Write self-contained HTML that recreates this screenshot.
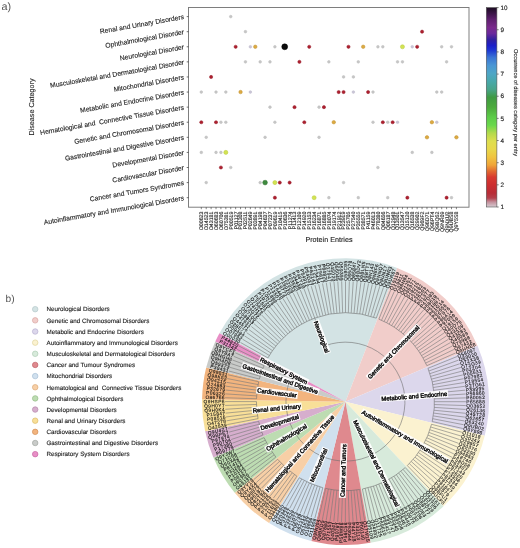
<!DOCTYPE html>
<html><head><meta charset="utf-8"><title>Figure</title>
<style>html,body{margin:0;padding:0;background:#fff;}body{width:520px;height:548px;overflow:hidden;font-family:"Liberation Sans",sans-serif;}svg{display:block;will-change:transform;text-rendering:geometricPrecision;}</style>
</head><body>
<svg width="520" height="548" viewBox="0 0 520 548" font-family='"Liberation Sans", sans-serif'><text x="1.6" y="9.6" font-size="10.8" fill="#555">a)</text>
<rect x="188.5" y="7.5" width="280.5" height="199.7" fill="#fff" stroke="#787878" stroke-width="0.95"/>
<line x1="186.7" y1="16.6" x2="188.5" y2="16.6" stroke="#333" stroke-width="0.7"/>
<text x="184" y="19.06" font-size="6.78" fill="#1e1e1e" stroke="#1e1e1e" stroke-width="0.12" text-anchor="end" xml:space="preserve" transform="rotate(-10 184 17.3)">Renal and Urinary Disorders</text>
<line x1="186.7" y1="31.69" x2="188.5" y2="31.69" stroke="#333" stroke-width="0.7"/>
<text x="184" y="34.15" font-size="6.78" fill="#1e1e1e" stroke="#1e1e1e" stroke-width="0.12" text-anchor="end" xml:space="preserve" transform="rotate(-10 184 32.39)">Ophthalmological Disorder</text>
<line x1="186.7" y1="46.78" x2="188.5" y2="46.78" stroke="#333" stroke-width="0.7"/>
<text x="184" y="49.24" font-size="6.78" fill="#1e1e1e" stroke="#1e1e1e" stroke-width="0.12" text-anchor="end" xml:space="preserve" transform="rotate(-10 184 47.48)">Neurological Disorder</text>
<line x1="186.7" y1="61.87" x2="188.5" y2="61.87" stroke="#333" stroke-width="0.7"/>
<text x="184" y="64.33" font-size="6.78" fill="#1e1e1e" stroke="#1e1e1e" stroke-width="0.12" text-anchor="end" xml:space="preserve" transform="rotate(-10 184 62.57)">Musculoskeletal and Dermatological Disorder</text>
<line x1="186.7" y1="76.96" x2="188.5" y2="76.96" stroke="#333" stroke-width="0.7"/>
<text x="184" y="79.42" font-size="6.78" fill="#1e1e1e" stroke="#1e1e1e" stroke-width="0.12" text-anchor="end" xml:space="preserve" transform="rotate(-10 184 77.66)">Mitochondrial Disorders</text>
<line x1="186.7" y1="92.05" x2="188.5" y2="92.05" stroke="#333" stroke-width="0.7"/>
<text x="184" y="94.51" font-size="6.78" fill="#1e1e1e" stroke="#1e1e1e" stroke-width="0.12" text-anchor="end" xml:space="preserve" transform="rotate(-10 184 92.75)">Metabolic and Endocrine Disorders</text>
<line x1="186.7" y1="107.14" x2="188.5" y2="107.14" stroke="#333" stroke-width="0.7"/>
<text x="184" y="109.6" font-size="6.78" fill="#1e1e1e" stroke="#1e1e1e" stroke-width="0.12" text-anchor="end" xml:space="preserve" transform="rotate(-10 184 107.84)">Hematological and  Connective Tissue Disorders</text>
<line x1="186.7" y1="122.23" x2="188.5" y2="122.23" stroke="#333" stroke-width="0.7"/>
<text x="184" y="124.69" font-size="6.78" fill="#1e1e1e" stroke="#1e1e1e" stroke-width="0.12" text-anchor="end" xml:space="preserve" transform="rotate(-10 184 122.93)">Genetic and Chromosomal Disorders</text>
<line x1="186.7" y1="137.32" x2="188.5" y2="137.32" stroke="#333" stroke-width="0.7"/>
<text x="184" y="139.78" font-size="6.78" fill="#1e1e1e" stroke="#1e1e1e" stroke-width="0.12" text-anchor="end" xml:space="preserve" transform="rotate(-10 184 138.02)">Gastrointestinal and Digestive Disorders</text>
<line x1="186.7" y1="152.41" x2="188.5" y2="152.41" stroke="#333" stroke-width="0.7"/>
<text x="184" y="154.87" font-size="6.78" fill="#1e1e1e" stroke="#1e1e1e" stroke-width="0.12" text-anchor="end" xml:space="preserve" transform="rotate(-10 184 153.11)">Developmental Disorder</text>
<line x1="186.7" y1="167.5" x2="188.5" y2="167.5" stroke="#333" stroke-width="0.7"/>
<text x="184" y="169.96" font-size="6.78" fill="#1e1e1e" stroke="#1e1e1e" stroke-width="0.12" text-anchor="end" xml:space="preserve" transform="rotate(-10 184 168.2)">Cardiovascular Disorder</text>
<line x1="186.7" y1="182.59" x2="188.5" y2="182.59" stroke="#333" stroke-width="0.7"/>
<text x="184" y="185.05" font-size="6.78" fill="#1e1e1e" stroke="#1e1e1e" stroke-width="0.12" text-anchor="end" xml:space="preserve" transform="rotate(-10 184 183.29)">Cancer and Tumors Syndromes</text>
<line x1="186.7" y1="197.68" x2="188.5" y2="197.68" stroke="#333" stroke-width="0.7"/>
<text x="184" y="200.14" font-size="6.78" fill="#1e1e1e" stroke="#1e1e1e" stroke-width="0.12" text-anchor="end" xml:space="preserve" transform="rotate(-10 184 198.38)">Autoinflammatory and Immunological Disorders</text>
<line x1="201.3" y1="207.2" x2="201.3" y2="209.2" stroke="#333" stroke-width="0.6"/>
<text x="203.21" y="211.5" font-size="5.3" fill="#222" stroke="#222" stroke-width="0.12" text-anchor="end" transform="rotate(-90 203.21 211.5)">O00623</text>
<line x1="206.21" y1="207.2" x2="206.21" y2="209.2" stroke="#333" stroke-width="0.6"/>
<text x="208.11" y="211.5" font-size="5.3" fill="#222" stroke="#222" stroke-width="0.12" text-anchor="end" transform="rotate(-90 208.11 211.5)">O14523</text>
<line x1="211.11" y1="207.2" x2="211.11" y2="209.2" stroke="#333" stroke-width="0.6"/>
<text x="213.02" y="211.5" font-size="5.3" fill="#222" stroke="#222" stroke-width="0.12" text-anchor="end" transform="rotate(-90 213.02 211.5)">O43181</text>
<line x1="216.02" y1="207.2" x2="216.02" y2="209.2" stroke="#333" stroke-width="0.6"/>
<text x="217.93" y="211.5" font-size="5.3" fill="#222" stroke="#222" stroke-width="0.12" text-anchor="end" transform="rotate(-90 217.93 211.5)">O60683</text>
<line x1="220.92" y1="207.2" x2="220.92" y2="209.2" stroke="#333" stroke-width="0.6"/>
<text x="222.83" y="211.5" font-size="5.3" fill="#222" stroke="#222" stroke-width="0.12" text-anchor="end" transform="rotate(-90 222.83 211.5)">O60706</text>
<line x1="225.83" y1="207.2" x2="225.83" y2="209.2" stroke="#333" stroke-width="0.6"/>
<text x="227.74" y="211.5" font-size="5.3" fill="#222" stroke="#222" stroke-width="0.12" text-anchor="end" transform="rotate(-90 227.74 211.5)">O75381</text>
<line x1="230.74" y1="207.2" x2="230.74" y2="209.2" stroke="#333" stroke-width="0.6"/>
<text x="232.64" y="211.5" font-size="5.3" fill="#222" stroke="#222" stroke-width="0.12" text-anchor="end" transform="rotate(-90 232.64 211.5)">P00519</text>
<line x1="235.64" y1="207.2" x2="235.64" y2="209.2" stroke="#333" stroke-width="0.6"/>
<text x="237.55" y="211.5" font-size="5.3" fill="#222" stroke="#222" stroke-width="0.12" text-anchor="end" transform="rotate(-90 237.55 211.5)">P01127</text>
<line x1="240.55" y1="207.2" x2="240.55" y2="209.2" stroke="#333" stroke-width="0.6"/>
<text x="242.46" y="211.5" font-size="5.3" fill="#222" stroke="#222" stroke-width="0.12" text-anchor="end" transform="rotate(-90 242.46 211.5)">P01308</text>
<line x1="245.45" y1="207.2" x2="245.45" y2="209.2" stroke="#333" stroke-width="0.6"/>
<text x="247.36" y="211.5" font-size="5.3" fill="#222" stroke="#222" stroke-width="0.12" text-anchor="end" transform="rotate(-90 247.36 211.5)">P02511</text>
<line x1="250.36" y1="207.2" x2="250.36" y2="209.2" stroke="#333" stroke-width="0.6"/>
<text x="252.27" y="211.5" font-size="5.3" fill="#222" stroke="#222" stroke-width="0.12" text-anchor="end" transform="rotate(-90 252.27 211.5)">P02649</text>
<line x1="255.27" y1="207.2" x2="255.27" y2="209.2" stroke="#333" stroke-width="0.6"/>
<text x="257.17" y="211.5" font-size="5.3" fill="#222" stroke="#222" stroke-width="0.12" text-anchor="end" transform="rotate(-90 257.17 211.5)">P03891</text>
<line x1="260.17" y1="207.2" x2="260.17" y2="209.2" stroke="#333" stroke-width="0.6"/>
<text x="262.08" y="211.5" font-size="5.3" fill="#222" stroke="#222" stroke-width="0.12" text-anchor="end" transform="rotate(-90 262.08 211.5)">P04198</text>
<line x1="265.08" y1="207.2" x2="265.08" y2="209.2" stroke="#333" stroke-width="0.6"/>
<text x="266.99" y="211.5" font-size="5.3" fill="#222" stroke="#222" stroke-width="0.12" text-anchor="end" transform="rotate(-90 266.99 211.5)">P04637</text>
<line x1="269.98" y1="207.2" x2="269.98" y2="209.2" stroke="#333" stroke-width="0.6"/>
<text x="271.89" y="211.5" font-size="5.3" fill="#222" stroke="#222" stroke-width="0.12" text-anchor="end" transform="rotate(-90 271.89 211.5)">P07237</text>
<line x1="274.89" y1="207.2" x2="274.89" y2="209.2" stroke="#333" stroke-width="0.6"/>
<text x="276.8" y="211.5" font-size="5.3" fill="#222" stroke="#222" stroke-width="0.12" text-anchor="end" transform="rotate(-90 276.8 211.5)">P09619</text>
<line x1="279.8" y1="207.2" x2="279.8" y2="209.2" stroke="#333" stroke-width="0.6"/>
<text x="281.7" y="211.5" font-size="5.3" fill="#222" stroke="#222" stroke-width="0.12" text-anchor="end" transform="rotate(-90 281.7 211.5)">P10415</text>
<line x1="284.7" y1="207.2" x2="284.7" y2="209.2" stroke="#333" stroke-width="0.6"/>
<text x="286.61" y="211.5" font-size="5.3" fill="#222" stroke="#222" stroke-width="0.12" text-anchor="end" transform="rotate(-90 286.61 211.5)">P10636</text>
<line x1="289.61" y1="207.2" x2="289.61" y2="209.2" stroke="#333" stroke-width="0.6"/>
<text x="291.52" y="211.5" font-size="5.3" fill="#222" stroke="#222" stroke-width="0.12" text-anchor="end" transform="rotate(-90 291.52 211.5)">P11274</text>
<line x1="294.51" y1="207.2" x2="294.51" y2="209.2" stroke="#333" stroke-width="0.6"/>
<text x="296.42" y="211.5" font-size="5.3" fill="#222" stroke="#222" stroke-width="0.12" text-anchor="end" transform="rotate(-90 296.42 211.5)">P11413</text>
<line x1="299.42" y1="207.2" x2="299.42" y2="209.2" stroke="#333" stroke-width="0.6"/>
<text x="301.33" y="211.5" font-size="5.3" fill="#222" stroke="#222" stroke-width="0.12" text-anchor="end" transform="rotate(-90 301.33 211.5)">P12109</text>
<line x1="304.33" y1="207.2" x2="304.33" y2="209.2" stroke="#333" stroke-width="0.6"/>
<text x="306.23" y="211.5" font-size="5.3" fill="#222" stroke="#222" stroke-width="0.12" text-anchor="end" transform="rotate(-90 306.23 211.5)">P14920</text>
<line x1="309.23" y1="207.2" x2="309.23" y2="209.2" stroke="#333" stroke-width="0.6"/>
<text x="311.14" y="211.5" font-size="5.3" fill="#222" stroke="#222" stroke-width="0.12" text-anchor="end" transform="rotate(-90 311.14 211.5)">P15153</text>
<line x1="314.14" y1="207.2" x2="314.14" y2="209.2" stroke="#333" stroke-width="0.6"/>
<text x="316.05" y="211.5" font-size="5.3" fill="#222" stroke="#222" stroke-width="0.12" text-anchor="end" transform="rotate(-90 316.05 211.5)">P16234</text>
<line x1="319.04" y1="207.2" x2="319.04" y2="209.2" stroke="#333" stroke-width="0.6"/>
<text x="320.95" y="211.5" font-size="5.3" fill="#222" stroke="#222" stroke-width="0.12" text-anchor="end" transform="rotate(-90 320.95 211.5)">P16871</text>
<line x1="323.95" y1="207.2" x2="323.95" y2="209.2" stroke="#333" stroke-width="0.6"/>
<text x="325.86" y="211.5" font-size="5.3" fill="#222" stroke="#222" stroke-width="0.12" text-anchor="end" transform="rotate(-90 325.86 211.5)">P16885</text>
<line x1="328.86" y1="207.2" x2="328.86" y2="209.2" stroke="#333" stroke-width="0.6"/>
<text x="330.76" y="211.5" font-size="5.3" fill="#222" stroke="#222" stroke-width="0.12" text-anchor="end" transform="rotate(-90 330.76 211.5)">P18074</text>
<line x1="333.76" y1="207.2" x2="333.76" y2="209.2" stroke="#333" stroke-width="0.6"/>
<text x="335.67" y="211.5" font-size="5.3" fill="#222" stroke="#222" stroke-width="0.12" text-anchor="end" transform="rotate(-90 335.67 211.5)">P19174</text>
<line x1="338.67" y1="207.2" x2="338.67" y2="209.2" stroke="#333" stroke-width="0.6"/>
<text x="340.58" y="211.5" font-size="5.3" fill="#222" stroke="#222" stroke-width="0.12" text-anchor="end" transform="rotate(-90 340.58 211.5)">P21912</text>
<line x1="343.57" y1="207.2" x2="343.57" y2="209.2" stroke="#333" stroke-width="0.6"/>
<text x="345.48" y="211.5" font-size="5.3" fill="#222" stroke="#222" stroke-width="0.12" text-anchor="end" transform="rotate(-90 345.48 211.5)">P23919</text>
<line x1="348.48" y1="207.2" x2="348.48" y2="209.2" stroke="#333" stroke-width="0.6"/>
<text x="350.39" y="211.5" font-size="5.3" fill="#222" stroke="#222" stroke-width="0.12" text-anchor="end" transform="rotate(-90 350.39 211.5)">P25705</text>
<line x1="353.39" y1="207.2" x2="353.39" y2="209.2" stroke="#333" stroke-width="0.6"/>
<text x="355.29" y="211.5" font-size="5.3" fill="#222" stroke="#222" stroke-width="0.12" text-anchor="end" transform="rotate(-90 355.29 211.5)">P27540</text>
<line x1="358.29" y1="207.2" x2="358.29" y2="209.2" stroke="#333" stroke-width="0.6"/>
<text x="360.2" y="211.5" font-size="5.3" fill="#222" stroke="#222" stroke-width="0.12" text-anchor="end" transform="rotate(-90 360.2 211.5)">P35555</text>
<line x1="363.2" y1="207.2" x2="363.2" y2="209.2" stroke="#333" stroke-width="0.6"/>
<text x="365.11" y="211.5" font-size="5.3" fill="#222" stroke="#222" stroke-width="0.12" text-anchor="end" transform="rotate(-90 365.11 211.5)">P38571</text>
<line x1="368.1" y1="207.2" x2="368.1" y2="209.2" stroke="#333" stroke-width="0.6"/>
<text x="370.01" y="211.5" font-size="5.3" fill="#222" stroke="#222" stroke-width="0.12" text-anchor="end" transform="rotate(-90 370.01 211.5)">P41159</text>
<line x1="373.01" y1="207.2" x2="373.01" y2="209.2" stroke="#333" stroke-width="0.6"/>
<text x="374.92" y="211.5" font-size="5.3" fill="#222" stroke="#222" stroke-width="0.12" text-anchor="end" transform="rotate(-90 374.92 211.5)">P46013</text>
<line x1="377.92" y1="207.2" x2="377.92" y2="209.2" stroke="#333" stroke-width="0.6"/>
<text x="379.82" y="211.5" font-size="5.3" fill="#222" stroke="#222" stroke-width="0.12" text-anchor="end" transform="rotate(-90 379.82 211.5)">P78380</text>
<line x1="382.82" y1="207.2" x2="382.82" y2="209.2" stroke="#333" stroke-width="0.6"/>
<text x="384.73" y="211.5" font-size="5.3" fill="#222" stroke="#222" stroke-width="0.12" text-anchor="end" transform="rotate(-90 384.73 211.5)">Q04656</text>
<line x1="387.73" y1="207.2" x2="387.73" y2="209.2" stroke="#333" stroke-width="0.6"/>
<text x="389.64" y="211.5" font-size="5.3" fill="#222" stroke="#222" stroke-width="0.12" text-anchor="end" transform="rotate(-90 389.64 211.5)">Q06187</text>
<line x1="392.63" y1="207.2" x2="392.63" y2="209.2" stroke="#333" stroke-width="0.6"/>
<text x="394.54" y="211.5" font-size="5.3" fill="#222" stroke="#222" stroke-width="0.12" text-anchor="end" transform="rotate(-90 394.54 211.5)">Q12948</text>
<line x1="397.54" y1="207.2" x2="397.54" y2="209.2" stroke="#333" stroke-width="0.6"/>
<text x="399.45" y="211.5" font-size="5.3" fill="#222" stroke="#222" stroke-width="0.12" text-anchor="end" transform="rotate(-90 399.45 211.5)">Q13501</text>
<line x1="402.45" y1="207.2" x2="402.45" y2="209.2" stroke="#333" stroke-width="0.6"/>
<text x="404.35" y="211.5" font-size="5.3" fill="#222" stroke="#222" stroke-width="0.12" text-anchor="end" transform="rotate(-90 404.35 211.5)">Q13547</text>
<line x1="407.35" y1="207.2" x2="407.35" y2="209.2" stroke="#333" stroke-width="0.6"/>
<text x="409.26" y="211.5" font-size="5.3" fill="#222" stroke="#222" stroke-width="0.12" text-anchor="end" transform="rotate(-90 409.26 211.5)">Q15120</text>
<line x1="412.26" y1="207.2" x2="412.26" y2="209.2" stroke="#333" stroke-width="0.6"/>
<text x="414.17" y="211.5" font-size="5.3" fill="#222" stroke="#222" stroke-width="0.12" text-anchor="end" transform="rotate(-90 414.17 211.5)">Q16538</text>
<line x1="417.16" y1="207.2" x2="417.16" y2="209.2" stroke="#333" stroke-width="0.6"/>
<text x="419.07" y="211.5" font-size="5.3" fill="#222" stroke="#222" stroke-width="0.12" text-anchor="end" transform="rotate(-90 419.07 211.5)">Q29902</text>
<line x1="422.07" y1="207.2" x2="422.07" y2="209.2" stroke="#333" stroke-width="0.6"/>
<text x="423.98" y="211.5" font-size="5.3" fill="#222" stroke="#222" stroke-width="0.12" text-anchor="end" transform="rotate(-90 423.98 211.5)">Q969F2</text>
<line x1="426.98" y1="207.2" x2="426.98" y2="209.2" stroke="#333" stroke-width="0.6"/>
<text x="428.88" y="211.5" font-size="5.3" fill="#222" stroke="#222" stroke-width="0.12" text-anchor="end" transform="rotate(-90 428.88 211.5)">Q96D71</text>
<line x1="431.88" y1="207.2" x2="431.88" y2="209.2" stroke="#333" stroke-width="0.6"/>
<text x="433.79" y="211.5" font-size="5.3" fill="#222" stroke="#222" stroke-width="0.12" text-anchor="end" transform="rotate(-90 433.79 211.5)">Q96PT4</text>
<line x1="436.79" y1="207.2" x2="436.79" y2="209.2" stroke="#333" stroke-width="0.6"/>
<text x="438.7" y="211.5" font-size="5.3" fill="#222" stroke="#222" stroke-width="0.12" text-anchor="end" transform="rotate(-90 438.7 211.5)">Q9BQ52</text>
<line x1="441.69" y1="207.2" x2="441.69" y2="209.2" stroke="#333" stroke-width="0.6"/>
<text x="443.6" y="211.5" font-size="5.3" fill="#222" stroke="#222" stroke-width="0.12" text-anchor="end" transform="rotate(-90 443.6 211.5)">Q9NR09</text>
<line x1="446.6" y1="207.2" x2="446.6" y2="209.2" stroke="#333" stroke-width="0.6"/>
<text x="448.51" y="211.5" font-size="5.3" fill="#222" stroke="#222" stroke-width="0.12" text-anchor="end" transform="rotate(-90 448.51 211.5)">Q9NXU2</text>
<line x1="451.51" y1="207.2" x2="451.51" y2="209.2" stroke="#333" stroke-width="0.6"/>
<text x="453.41" y="211.5" font-size="5.3" fill="#222" stroke="#222" stroke-width="0.12" text-anchor="end" transform="rotate(-90 453.41 211.5)">Q9UBS8</text>
<line x1="456.41" y1="207.2" x2="456.41" y2="209.2" stroke="#333" stroke-width="0.6"/>
<text x="458.32" y="211.5" font-size="5.3" fill="#222" stroke="#222" stroke-width="0.12" text-anchor="end" transform="rotate(-90 458.32 211.5)">Q9Y5S8</text>
<text x="329" y="241.6" font-size="7.2" fill="#222" stroke="#222" stroke-width="0.12" text-anchor="middle">Protein Entries</text>
<text x="0" y="0" font-size="7.2" fill="#222" stroke="#222" stroke-width="0.12" text-anchor="middle" transform="translate(33.6 107) rotate(-90)">Disease Category</text>
<circle cx="230.74" cy="16.6" r="1.3499999999999999" fill="#c6c6c6" stroke="#bdbdbd" stroke-width="0.5"/>
<circle cx="245.45" cy="31.69" r="1.3499999999999999" fill="#c6c6c6" stroke="#bdbdbd" stroke-width="0.5"/>
<circle cx="422.07" cy="31.69" r="1.5999999999999999" fill="#ad1f2e" stroke="#951a28" stroke-width="0.5"/>
<circle cx="235.64" cy="46.78" r="1.5999999999999999" fill="#ad1f2e" stroke="#951a28" stroke-width="0.5"/>
<circle cx="250.36" cy="46.78" r="1.3499999999999999" fill="#c9c5d6" stroke="#bcb8ca" stroke-width="0.5"/>
<circle cx="255.27" cy="46.78" r="1.75" fill="#dcaa42" stroke="#c09030" stroke-width="0.5"/>
<circle cx="274.89" cy="46.78" r="1.3499999999999999" fill="#c6c6c6" stroke="#bdbdbd" stroke-width="0.5"/>
<circle cx="284.7" cy="46.78" r="2.9499999999999997" fill="#0b0b0b" stroke="#000" stroke-width="0.5"/>
<circle cx="309.23" cy="46.78" r="1.5999999999999999" fill="#ad1f2e" stroke="#951a28" stroke-width="0.5"/>
<circle cx="348.48" cy="46.78" r="1.5999999999999999" fill="#ad1f2e" stroke="#951a28" stroke-width="0.5"/>
<circle cx="363.2" cy="46.78" r="1.75" fill="#dcaa42" stroke="#c09030" stroke-width="0.5"/>
<circle cx="377.92" cy="46.78" r="1.3499999999999999" fill="#c6c6c6" stroke="#bdbdbd" stroke-width="0.5"/>
<circle cx="382.82" cy="46.78" r="1.3499999999999999" fill="#c6c6c6" stroke="#bdbdbd" stroke-width="0.5"/>
<circle cx="402.45" cy="46.78" r="2.05" fill="#d2e352" stroke="#b8c840" stroke-width="0.5"/>
<circle cx="412.26" cy="46.78" r="1.3499999999999999" fill="#c9c5d6" stroke="#bcb8ca" stroke-width="0.5"/>
<circle cx="417.16" cy="46.78" r="1.5999999999999999" fill="#ad1f2e" stroke="#951a28" stroke-width="0.5"/>
<circle cx="441.69" cy="46.78" r="1.3499999999999999" fill="#c6c6c6" stroke="#bdbdbd" stroke-width="0.5"/>
<circle cx="451.51" cy="46.78" r="1.3499999999999999" fill="#c6c6c6" stroke="#bdbdbd" stroke-width="0.5"/>
<circle cx="245.45" cy="61.87" r="1.3499999999999999" fill="#c6c6c6" stroke="#bdbdbd" stroke-width="0.5"/>
<circle cx="260.17" cy="61.87" r="1.3499999999999999" fill="#c6c6c6" stroke="#bdbdbd" stroke-width="0.5"/>
<circle cx="269.98" cy="61.87" r="1.3499999999999999" fill="#c6c6c6" stroke="#bdbdbd" stroke-width="0.5"/>
<circle cx="299.42" cy="61.87" r="1.5999999999999999" fill="#ad1f2e" stroke="#951a28" stroke-width="0.5"/>
<circle cx="328.86" cy="61.87" r="1.3499999999999999" fill="#c6c6c6" stroke="#bdbdbd" stroke-width="0.5"/>
<circle cx="358.29" cy="61.87" r="1.3499999999999999" fill="#c6c6c6" stroke="#bdbdbd" stroke-width="0.5"/>
<circle cx="397.54" cy="61.87" r="1.3499999999999999" fill="#c6c6c6" stroke="#bdbdbd" stroke-width="0.5"/>
<circle cx="402.45" cy="61.87" r="1.3499999999999999" fill="#c6c6c6" stroke="#bdbdbd" stroke-width="0.5"/>
<circle cx="446.6" cy="61.87" r="1.3499999999999999" fill="#c6c6c6" stroke="#bdbdbd" stroke-width="0.5"/>
<circle cx="211.11" cy="76.96" r="1.5999999999999999" fill="#ad1f2e" stroke="#951a28" stroke-width="0.5"/>
<circle cx="343.57" cy="76.96" r="1.3499999999999999" fill="#c6c6c6" stroke="#bdbdbd" stroke-width="0.5"/>
<circle cx="353.39" cy="76.96" r="1.3499999999999999" fill="#c6c6c6" stroke="#bdbdbd" stroke-width="0.5"/>
<circle cx="201.3" cy="92.05" r="1.3499999999999999" fill="#c6c6c6" stroke="#bdbdbd" stroke-width="0.5"/>
<circle cx="216.02" cy="92.05" r="1.3499999999999999" fill="#c6c6c6" stroke="#bdbdbd" stroke-width="0.5"/>
<circle cx="225.83" cy="92.05" r="1.3499999999999999" fill="#c6c6c6" stroke="#bdbdbd" stroke-width="0.5"/>
<circle cx="240.55" cy="92.05" r="1.75" fill="#dcaa42" stroke="#c09030" stroke-width="0.5"/>
<circle cx="250.36" cy="92.05" r="1.3499999999999999" fill="#c9c5d6" stroke="#bcb8ca" stroke-width="0.5"/>
<circle cx="338.67" cy="92.05" r="1.5999999999999999" fill="#ad1f2e" stroke="#951a28" stroke-width="0.5"/>
<circle cx="343.57" cy="92.05" r="1.5999999999999999" fill="#ad1f2e" stroke="#951a28" stroke-width="0.5"/>
<circle cx="353.39" cy="92.05" r="1.3499999999999999" fill="#c9c5d6" stroke="#bcb8ca" stroke-width="0.5"/>
<circle cx="368.1" cy="92.05" r="1.5999999999999999" fill="#ad1f2e" stroke="#951a28" stroke-width="0.5"/>
<circle cx="373.01" cy="92.05" r="1.3499999999999999" fill="#c6c6c6" stroke="#bdbdbd" stroke-width="0.5"/>
<circle cx="436.79" cy="92.05" r="1.3499999999999999" fill="#c6c6c6" stroke="#bdbdbd" stroke-width="0.5"/>
<circle cx="441.69" cy="92.05" r="1.3499999999999999" fill="#c6c6c6" stroke="#bdbdbd" stroke-width="0.5"/>
<circle cx="269.98" cy="107.14" r="1.3499999999999999" fill="#c6c6c6" stroke="#bdbdbd" stroke-width="0.5"/>
<circle cx="294.51" cy="107.14" r="1.5999999999999999" fill="#ad1f2e" stroke="#951a28" stroke-width="0.5"/>
<circle cx="319.04" cy="107.14" r="1.3499999999999999" fill="#c6c6c6" stroke="#bdbdbd" stroke-width="0.5"/>
<circle cx="323.95" cy="107.14" r="1.5999999999999999" fill="#ad1f2e" stroke="#951a28" stroke-width="0.5"/>
<circle cx="201.3" cy="122.23" r="1.5999999999999999" fill="#ad1f2e" stroke="#951a28" stroke-width="0.5"/>
<circle cx="216.02" cy="122.23" r="1.5999999999999999" fill="#ad1f2e" stroke="#951a28" stroke-width="0.5"/>
<circle cx="220.92" cy="122.23" r="1.3499999999999999" fill="#c6c6c6" stroke="#bdbdbd" stroke-width="0.5"/>
<circle cx="225.83" cy="122.23" r="1.3499999999999999" fill="#c6c6c6" stroke="#bdbdbd" stroke-width="0.5"/>
<circle cx="274.89" cy="122.23" r="1.3499999999999999" fill="#c6c6c6" stroke="#bdbdbd" stroke-width="0.5"/>
<circle cx="304.33" cy="122.23" r="1.5999999999999999" fill="#ad1f2e" stroke="#951a28" stroke-width="0.5"/>
<circle cx="333.76" cy="122.23" r="1.75" fill="#dcaa42" stroke="#c09030" stroke-width="0.5"/>
<circle cx="373.01" cy="122.23" r="1.3499999999999999" fill="#c6c6c6" stroke="#bdbdbd" stroke-width="0.5"/>
<circle cx="382.82" cy="122.23" r="1.5999999999999999" fill="#ad1f2e" stroke="#951a28" stroke-width="0.5"/>
<circle cx="387.73" cy="122.23" r="1.3499999999999999" fill="#c6c6c6" stroke="#bdbdbd" stroke-width="0.5"/>
<circle cx="392.63" cy="122.23" r="1.5999999999999999" fill="#ad1f2e" stroke="#951a28" stroke-width="0.5"/>
<circle cx="397.54" cy="122.23" r="1.3499999999999999" fill="#c9c5d6" stroke="#bcb8ca" stroke-width="0.5"/>
<circle cx="431.88" cy="122.23" r="1.75" fill="#dcaa42" stroke="#c09030" stroke-width="0.5"/>
<circle cx="436.79" cy="122.23" r="1.3499999999999999" fill="#c9c5d6" stroke="#bcb8ca" stroke-width="0.5"/>
<circle cx="206.21" cy="137.32" r="1.3499999999999999" fill="#c6c6c6" stroke="#bdbdbd" stroke-width="0.5"/>
<circle cx="265.08" cy="137.32" r="1.3499999999999999" fill="#c6c6c6" stroke="#bdbdbd" stroke-width="0.5"/>
<circle cx="319.04" cy="137.32" r="1.3499999999999999" fill="#c6c6c6" stroke="#bdbdbd" stroke-width="0.5"/>
<circle cx="426.98" cy="137.32" r="1.75" fill="#dcaa42" stroke="#c09030" stroke-width="0.5"/>
<circle cx="456.41" cy="137.32" r="1.75" fill="#dcaa42" stroke="#c09030" stroke-width="0.5"/>
<circle cx="201.3" cy="152.41" r="1.3499999999999999" fill="#c6c6c6" stroke="#bdbdbd" stroke-width="0.5"/>
<circle cx="216.02" cy="152.41" r="1.3499999999999999" fill="#c6c6c6" stroke="#bdbdbd" stroke-width="0.5"/>
<circle cx="220.92" cy="152.41" r="1.3499999999999999" fill="#c6c6c6" stroke="#bdbdbd" stroke-width="0.5"/>
<circle cx="225.83" cy="152.41" r="2.05" fill="#d2e352" stroke="#b8c840" stroke-width="0.5"/>
<circle cx="412.26" cy="152.41" r="1.3499999999999999" fill="#c6c6c6" stroke="#bdbdbd" stroke-width="0.5"/>
<circle cx="431.88" cy="152.41" r="1.3499999999999999" fill="#c6c6c6" stroke="#bdbdbd" stroke-width="0.5"/>
<circle cx="220.92" cy="167.5" r="1.5999999999999999" fill="#ad1f2e" stroke="#951a28" stroke-width="0.5"/>
<circle cx="230.74" cy="167.5" r="1.3499999999999999" fill="#c6c6c6" stroke="#bdbdbd" stroke-width="0.5"/>
<circle cx="377.92" cy="167.5" r="1.3499999999999999" fill="#c6c6c6" stroke="#bdbdbd" stroke-width="0.5"/>
<circle cx="206.21" cy="182.59" r="1.3499999999999999" fill="#c6c6c6" stroke="#bdbdbd" stroke-width="0.5"/>
<circle cx="260.17" cy="182.59" r="1.3499999999999999" fill="#c6c6c6" stroke="#bdbdbd" stroke-width="0.5"/>
<circle cx="265.08" cy="182.59" r="2.35" fill="#3e8a3e" stroke="#2e6e2e" stroke-width="0.5"/>
<circle cx="274.89" cy="182.59" r="2.05" fill="#d2e352" stroke="#b8c840" stroke-width="0.5"/>
<circle cx="279.8" cy="182.59" r="1.5999999999999999" fill="#ad1f2e" stroke="#951a28" stroke-width="0.5"/>
<circle cx="289.61" cy="182.59" r="1.5999999999999999" fill="#ad1f2e" stroke="#951a28" stroke-width="0.5"/>
<circle cx="343.57" cy="182.59" r="1.3499999999999999" fill="#c6c6c6" stroke="#bdbdbd" stroke-width="0.5"/>
<circle cx="274.89" cy="197.68" r="1.5999999999999999" fill="#ad1f2e" stroke="#951a28" stroke-width="0.5"/>
<circle cx="314.14" cy="197.68" r="2.05" fill="#d2e352" stroke="#b8c840" stroke-width="0.5"/>
<circle cx="328.86" cy="197.68" r="1.3499999999999999" fill="#c6c6c6" stroke="#bdbdbd" stroke-width="0.5"/>
<circle cx="358.29" cy="197.68" r="1.3499999999999999" fill="#c6c6c6" stroke="#bdbdbd" stroke-width="0.5"/>
<circle cx="387.73" cy="197.68" r="1.3499999999999999" fill="#c6c6c6" stroke="#bdbdbd" stroke-width="0.5"/>
<circle cx="407.35" cy="197.68" r="1.5999999999999999" fill="#ad1f2e" stroke="#951a28" stroke-width="0.5"/>
<circle cx="446.6" cy="197.68" r="1.5999999999999999" fill="#ad1f2e" stroke="#951a28" stroke-width="0.5"/>
<circle cx="451.51" cy="197.68" r="1.3499999999999999" fill="#c6c6c6" stroke="#bdbdbd" stroke-width="0.5"/>
<defs><linearGradient id="cb" x1="0" y1="0" x2="0" y2="1"><stop offset="0.0" stop-color="#1c0c22"/><stop offset="0.03" stop-color="#3c1448"/><stop offset="0.06" stop-color="#5e1f6e"/><stop offset="0.1" stop-color="#7a2a8c"/><stop offset="0.13" stop-color="#6a289c"/><stop offset="0.16" stop-color="#32209e"/><stop offset="0.19" stop-color="#1c1ec8"/><stop offset="0.215" stop-color="#1e38d2"/><stop offset="0.25" stop-color="#3a74d4"/><stop offset="0.29" stop-color="#4a96d4"/><stop offset="0.33" stop-color="#4ea6c6"/><stop offset="0.37" stop-color="#48a8aa"/><stop offset="0.41" stop-color="#48a48a"/><stop offset="0.45" stop-color="#3f9a42"/><stop offset="0.5" stop-color="#4caa3c"/><stop offset="0.55" stop-color="#5ccc48"/><stop offset="0.59" stop-color="#6ad84c"/><stop offset="0.63" stop-color="#b4da4c"/><stop offset="0.67" stop-color="#dede4e"/><stop offset="0.71" stop-color="#e8d84a"/><stop offset="0.75" stop-color="#f0c440"/><stop offset="0.79" stop-color="#f0a438"/><stop offset="0.82" stop-color="#e26a30"/><stop offset="0.85" stop-color="#d83a30"/><stop offset="0.89" stop-color="#cc2e30"/><stop offset="0.93" stop-color="#b82c36"/><stop offset="0.955" stop-color="#b4404c"/><stop offset="0.975" stop-color="#c4909c"/><stop offset="1.0" stop-color="#d6ccd2"/></linearGradient></defs>
<rect x="486.3" y="7.6" width="10.6" height="199.4" fill="url(#cb)" stroke="#555" stroke-width="0.6"/>
<line x1="496.9" y1="207" x2="498.7" y2="207" stroke="#333" stroke-width="0.6"/>
<text x="500.6" y="209.25" font-size="6.3" fill="#222" stroke="#222" stroke-width="0.15">1</text>
<line x1="496.9" y1="184.84" x2="498.7" y2="184.84" stroke="#333" stroke-width="0.6"/>
<text x="500.6" y="187.09" font-size="6.3" fill="#222" stroke="#222" stroke-width="0.15">2</text>
<line x1="496.9" y1="162.69" x2="498.7" y2="162.69" stroke="#333" stroke-width="0.6"/>
<text x="500.6" y="164.94" font-size="6.3" fill="#222" stroke="#222" stroke-width="0.15">3</text>
<line x1="496.9" y1="140.53" x2="498.7" y2="140.53" stroke="#333" stroke-width="0.6"/>
<text x="500.6" y="142.78" font-size="6.3" fill="#222" stroke="#222" stroke-width="0.15">4</text>
<line x1="496.9" y1="118.38" x2="498.7" y2="118.38" stroke="#333" stroke-width="0.6"/>
<text x="500.6" y="120.63" font-size="6.3" fill="#222" stroke="#222" stroke-width="0.15">5</text>
<line x1="496.9" y1="96.22" x2="498.7" y2="96.22" stroke="#333" stroke-width="0.6"/>
<text x="500.6" y="98.47" font-size="6.3" fill="#222" stroke="#222" stroke-width="0.15">6</text>
<line x1="496.9" y1="74.07" x2="498.7" y2="74.07" stroke="#333" stroke-width="0.6"/>
<text x="500.6" y="76.32" font-size="6.3" fill="#222" stroke="#222" stroke-width="0.15">7</text>
<line x1="496.9" y1="51.91" x2="498.7" y2="51.91" stroke="#333" stroke-width="0.6"/>
<text x="500.6" y="54.16" font-size="6.3" fill="#222" stroke="#222" stroke-width="0.15">8</text>
<line x1="496.9" y1="29.76" x2="498.7" y2="29.76" stroke="#333" stroke-width="0.6"/>
<text x="500.6" y="32.01" font-size="6.3" fill="#222" stroke="#222" stroke-width="0.15">9</text>
<line x1="496.9" y1="7.6" x2="498.7" y2="7.6" stroke="#333" stroke-width="0.6"/>
<text x="500.6" y="9.85" font-size="6.3" fill="#222" stroke="#222" stroke-width="0.15">10</text>
<text x="0" y="0" font-size="5.7" fill="#222" text-anchor="middle" stroke="#222" stroke-width="0.12" transform="translate(514.2 102.6) rotate(90)">Occurrence of diseases category per entry</text>
<text x="5.6" y="301.6" font-size="10.2" fill="#555">b)</text>
<circle cx="35.2" cy="309.2" r="2.75" fill="#d3e3e4" stroke="#b6c8ca" stroke-width="0.7"/>
<text x="46.5" y="311.45" font-size="6.25" fill="#222" stroke="#222" stroke-width="0.13" xml:space="preserve">Neurological Disorders</text>
<circle cx="35.2" cy="320.35" r="2.75" fill="#f1cdca" stroke="#d8a6a3" stroke-width="0.7"/>
<text x="46.5" y="322.6" font-size="6.25" fill="#222" stroke="#222" stroke-width="0.13" xml:space="preserve">Genetic and Chromosomal Disorders</text>
<circle cx="35.2" cy="331.5" r="2.75" fill="#dcd7ec" stroke="#b8b0d0" stroke-width="0.7"/>
<text x="46.5" y="333.75" font-size="6.25" fill="#222" stroke="#222" stroke-width="0.13" xml:space="preserve">Metabolic and Endocrine Disorders</text>
<circle cx="35.2" cy="342.65" r="2.75" fill="#fbf2d0" stroke="#e0d49c" stroke-width="0.7"/>
<text x="46.5" y="344.9" font-size="6.25" fill="#222" stroke="#222" stroke-width="0.13" xml:space="preserve">Autoinflammatory and Immunological Disorders</text>
<circle cx="35.2" cy="353.8" r="2.75" fill="#d7eadb" stroke="#afcdb5" stroke-width="0.7"/>
<text x="46.5" y="356.05" font-size="6.25" fill="#222" stroke="#222" stroke-width="0.13" xml:space="preserve">Musculoskeletal and Dermatological Disorders</text>
<circle cx="35.2" cy="364.95" r="2.75" fill="#df898e" stroke="#c0646a" stroke-width="0.7"/>
<text x="46.5" y="367.2" font-size="6.25" fill="#222" stroke="#222" stroke-width="0.13" xml:space="preserve">Cancer and Tumour Syndromes</text>
<circle cx="35.2" cy="376.1" r="2.75" fill="#d0e0ee" stroke="#a8c0d6" stroke-width="0.7"/>
<text x="46.5" y="378.35" font-size="6.25" fill="#222" stroke="#222" stroke-width="0.13" xml:space="preserve">Mitochondrial Disorders</text>
<circle cx="35.2" cy="387.25" r="2.75" fill="#f7cfa6" stroke="#dcaa78" stroke-width="0.7"/>
<text x="46.5" y="389.5" font-size="6.25" fill="#222" stroke="#222" stroke-width="0.13" xml:space="preserve">Hematological and  Connective Tissue Disorders</text>
<circle cx="35.2" cy="398.4" r="2.75" fill="#bddcb2" stroke="#93bd86" stroke-width="0.7"/>
<text x="46.5" y="400.65" font-size="6.25" fill="#222" stroke="#222" stroke-width="0.13" xml:space="preserve">Ophthalmological Disorders</text>
<circle cx="35.2" cy="409.55" r="2.75" fill="#d6aecd" stroke="#b688ac" stroke-width="0.7"/>
<text x="46.5" y="411.8" font-size="6.25" fill="#222" stroke="#222" stroke-width="0.13" xml:space="preserve">Developmental Disorders</text>
<circle cx="35.2" cy="420.7" r="2.75" fill="#f8df98" stroke="#dcbc6a" stroke-width="0.7"/>
<text x="46.5" y="422.95" font-size="6.25" fill="#222" stroke="#222" stroke-width="0.13" xml:space="preserve">Renal and Urinary Disorders</text>
<circle cx="35.2" cy="431.85" r="2.75" fill="#f2b47e" stroke="#d28e56" stroke-width="0.7"/>
<text x="46.5" y="434.1" font-size="6.25" fill="#222" stroke="#222" stroke-width="0.13" xml:space="preserve">Cardiovascular Disorders</text>
<circle cx="35.2" cy="443" r="2.75" fill="#c9cbc9" stroke="#a4a8a4" stroke-width="0.7"/>
<text x="46.5" y="445.25" font-size="6.25" fill="#222" stroke="#222" stroke-width="0.13" xml:space="preserve">Gastrointestinal and Digestive Disorders</text>
<circle cx="35.2" cy="454.15" r="2.75" fill="#e88fc6" stroke="#c866a4" stroke-width="0.7"/>
<text x="46.5" y="456.4" font-size="6.25" fill="#222" stroke="#222" stroke-width="0.13" xml:space="preserve">Respiratory System Disorders</text>
<g><path d="M345.45 401.65L219.43 333.23A143.4 143.4 0 0 1 397.2 267.91Z" fill="#d3e3e4"/><path d="M345.45 401.65L397.2 267.91A143.4 143.4 0 0 1 477.52 345.78Z" fill="#f1cdca"/><path d="M345.45 401.65L477.52 345.78A143.4 143.4 0 0 1 484.71 435.87Z" fill="#dcd7ec"/><path d="M345.45 401.65L484.71 435.87A143.4 143.4 0 0 1 443.49 506.3Z" fill="#fbf2d0"/><path d="M345.45 401.65L443.49 506.3A143.4 143.4 0 0 1 370.53 542.84Z" fill="#d7eadb"/><path d="M345.45 401.65L370.53 542.84A143.4 143.4 0 0 1 311.23 540.91Z" fill="#df898e"/><path d="M345.45 401.65L311.23 540.91A143.4 143.4 0 0 1 269.09 523.03Z" fill="#d0e0ee"/><path d="M345.45 401.65L269.09 523.03A143.4 143.4 0 0 1 234.73 492.78Z" fill="#f7cfa6"/><path d="M345.45 401.65L234.73 492.78A143.4 143.4 0 0 1 213.38 457.52Z" fill="#bddcb2"/><path d="M345.45 401.65L213.38 457.52A143.4 143.4 0 0 1 205.14 431.24Z" fill="#d6aecd"/><path d="M345.45 401.65L205.14 431.24A143.4 143.4 0 0 1 202.07 399.28Z" fill="#f8df98"/><path d="M345.45 401.65L202.07 399.28A143.4 143.4 0 0 1 206.19 367.43Z" fill="#f2b47e"/><path d="M345.45 401.65L206.19 367.43A143.4 143.4 0 0 1 215.3 341.44Z" fill="#c9cbc9"/><path d="M345.45 401.65L215.3 341.44A143.4 143.4 0 0 1 219.43 333.23Z" fill="#e88fc6"/></g>
<path d="M267.93 357.93L240.57 342.51M269.37 355.47L242.52 339.18M270.89 353.06L244.58 335.91M272.48 350.69L246.74 332.71M274.15 348.38L249 329.59M275.9 346.12L251.36 326.53M277.71 343.92L253.81 323.55M279.6 341.78L256.36 320.66M281.55 339.7L259.01 317.84M283.57 337.68L261.74 315.12M285.65 335.73L264.55 312.48M287.79 333.85L267.45 309.93M290 332.04L270.43 307.48M292.26 330.3L273.49 305.12M294.57 328.63L276.62 302.86M296.94 327.03L279.82 300.71M299.35 325.52L283.09 298.66M301.82 324.08L286.42 296.71M304.33 322.72L289.82 294.87M306.88 321.44L293.27 293.15M309.47 320.25L296.77 291.53M312.1 319.14L300.33 290.03M314.76 318.11L303.93 288.64M317.45 317.17L307.57 287.36M320.17 316.32L311.25 286.21M322.92 315.55L314.97 285.17M325.69 314.87L318.72 284.25M328.48 314.28L322.5 283.46M331.29 313.78L326.3 282.78M334.12 313.37L330.12 282.23M336.95 313.06L333.95 281.8M339.8 312.83L337.8 281.49M342.64 312.69L341.66 281.31M345.5 312.65L345.51 281.25M348.35 312.7L349.37 281.31M351.2 312.84L353.23 281.5M354.04 313.07L357.08 281.81M356.88 313.39L360.91 282.25M359.7 313.8L364.73 282.8M362.51 314.3L368.53 283.48M365.3 314.89L372.3 284.28M368.07 315.57L376.05 285.2M370.82 316.34L379.77 286.24M373.54 317.2L383.45 287.4M376.23 318.14L387.09 288.68M378.89 319.17L390.69 290.07M381.52 320.29L394.24 291.58M384.11 321.48L397.75 293.2M386.66 322.76L401.2 294.93M389.17 324.13L404.59 296.77M391.63 325.57L407.92 298.72M394.04 327.09L411.19 300.78M396.41 328.68L414.39 302.94M398.72 330.35L417.51 305.2M400.98 332.1L420.57 307.56M403.18 333.91L423.55 310.01M405.32 335.8L426.44 312.56M407.4 337.75L429.26 315.21M409.42 339.77L431.98 317.94M411.37 341.85L434.62 320.75M413.25 343.99L437.17 323.65M415.06 346.2L439.62 326.63M416.8 348.46L441.98 329.69M418.47 350.77L444.24 332.82M420.07 353.14L446.39 336.02M421.58 355.55L448.44 339.29M423.02 358.02L450.39 342.62M424.38 360.53L452.23 346.02M425.66 363.08L453.95 349.47M426.85 365.67L455.57 352.97M427.96 368.3L457.07 356.53M428.99 370.96L458.46 360.13M429.93 373.65L459.74 363.77M430.78 376.37L460.89 367.45M431.55 379.12L461.93 371.17M432.23 381.89L462.85 374.92M432.82 384.68L463.64 378.7M433.32 387.49L464.32 382.5M433.73 390.32L464.87 386.32M434.04 393.15L465.3 390.15M434.27 396L465.61 394M434.41 398.84L465.79 397.86M434.45 401.7L465.85 401.71M434.4 404.55L465.79 405.57M434.26 407.4L465.6 409.43M434.03 410.24L465.29 413.28M433.71 413.08L464.85 417.11M433.3 415.9L464.3 420.93M432.8 418.71L463.62 424.73M432.21 421.5L462.82 428.5M431.53 424.27L461.9 432.25M430.76 427.02L460.86 435.97M429.9 429.74L459.7 439.65M428.96 432.43L458.42 443.29M427.93 435.09L457.03 446.89M426.81 437.72L455.52 450.44M425.62 440.31L453.9 453.95M424.34 442.86L452.17 457.4M422.97 445.37L450.33 460.79M421.53 447.83L448.38 464.12M420.01 450.24L446.32 467.39M418.42 452.61L444.16 470.59M416.75 454.92L441.9 473.71M415 457.18L439.54 476.77M413.19 459.38L437.09 479.75M411.3 461.52L434.54 482.64M409.35 463.6L431.89 485.46M407.33 465.62L429.16 488.18M405.25 467.57L426.35 490.82M403.11 469.45L423.45 493.37M400.9 471.26L420.47 495.82M398.64 473L417.41 498.18M396.33 474.67L414.28 500.44M393.96 476.27L411.08 502.59M391.55 477.78L407.81 504.64M389.08 479.22L404.48 506.59M386.57 480.58L401.08 508.43M384.02 481.86L397.63 510.15M381.43 483.05L394.13 511.77M378.8 484.16L390.57 513.27M376.14 485.19L386.97 514.66M373.45 486.13L383.33 515.94M370.73 486.98L379.65 517.09M367.98 487.75L375.93 518.13M365.21 488.43L372.18 519.05M362.42 489.02L368.4 519.84M359.61 489.52L364.6 520.52M356.78 489.93L360.78 521.07M353.95 490.24L356.95 521.5M351.1 490.47L353.1 521.81M348.26 490.61L349.24 521.99M345.4 490.65L345.39 522.05M342.55 490.6L341.53 521.99M339.7 490.46L337.67 521.8M336.86 490.23L333.82 521.49M334.02 489.91L329.99 521.05M331.2 489.5L326.17 520.5M328.39 489L322.37 519.82M325.6 488.41L318.6 519.02M322.83 487.73L314.85 518.1M320.08 486.96L311.13 517.06M317.36 486.1L307.45 515.9M314.67 485.16L303.81 514.62M312.01 484.13L300.21 513.23M309.38 483.01L296.66 511.72M306.79 481.82L293.15 510.1M304.24 480.54L289.7 508.37M301.73 479.17L286.31 506.53M299.27 477.73L282.98 504.58M296.86 476.21L279.71 502.52M294.49 474.62L276.51 500.36M292.18 472.95L273.39 498.1M289.92 471.2L270.33 495.74M287.72 469.39L267.35 493.29M285.58 467.5L264.46 490.74M283.5 465.55L261.64 488.09M281.48 463.53L258.92 485.36M279.53 461.45L256.28 482.55M277.65 459.31L253.73 479.65M275.84 457.1L251.28 476.67M274.1 454.84L248.92 473.61M272.43 452.53L246.66 470.48M270.83 450.16L244.51 467.28M269.32 447.75L242.46 464.01M267.88 445.28L240.51 460.68M266.52 442.77L238.67 457.28M265.24 440.22L236.95 453.83M264.05 437.63L235.33 450.33M262.94 435L233.83 446.77M261.91 432.34L232.44 443.17M260.97 429.65L231.16 439.53M260.12 426.93L230.01 435.85M259.35 424.18L228.97 432.13M258.67 421.41L228.05 428.38M258.08 418.62L227.26 424.6M257.58 415.81L226.58 420.8M257.17 412.98L226.03 416.98M256.86 410.15L225.6 413.15M256.63 407.3L225.29 409.3M256.49 404.46L225.11 405.44M256.45 401.6L225.05 401.59M256.5 398.75L225.11 397.73M256.64 395.9L225.3 393.87M256.87 393.06L225.61 390.02M257.19 390.22L226.05 386.19M257.6 387.4L226.6 382.37M258.1 384.59L227.28 378.57M258.69 381.8L228.08 374.8M259.37 379.03L229 371.05M260.14 376.28L230.04 367.33M261 373.56L231.2 363.65M261.94 370.87L232.48 360.01M262.97 368.21L233.87 356.41M264.09 365.58L235.38 352.86M265.28 362.99L237 349.35M266.56 360.44L238.73 345.9" stroke="#7a7a7a" stroke-width="0.62" fill="none"/>
<path d="M267.93 357.93A89 89 0 0 1 376.23 318.14M324.93 345.8L314.76 318.11M378.89 319.17A89 89 0 0 1 426.85 365.67M386.87 358.93L407.4 337.75M427.96 368.3A89 89 0 0 1 432.21 421.5M404.76 396.92L434.17 394.57M431.53 424.27A89 89 0 0 1 407.33 465.62M396.8 431.7L422.26 446.6M405.25 467.57A89 89 0 0 1 362.42 489.02M372.09 454.85L385.3 481.23M359.61 489.52A89 89 0 0 1 325.6 488.41M343.51 461.12L342.55 490.6M322.83 487.73A89 89 0 0 1 299.27 477.73M322.21 456.42L310.69 483.58M296.86 476.21A89 89 0 0 1 277.65 459.31M306.14 446.31L286.64 468.45M275.84 457.1A89 89 0 0 1 264.05 437.63M294.55 432.47L269.32 447.75M262.94 435A89 89 0 0 1 258.67 421.41M288.68 419.46L260.53 428.29M258.08 418.62A89 89 0 0 1 256.45 401.6M286.22 407.33L256.86 410.15M256.5 398.75A89 89 0 0 1 258.69 381.8M286.44 394.01L257.19 390.22M259.37 379.03A89 89 0 0 1 264.09 365.58M289.3 381.97L261.46 372.21M265.28 362.99A89 89 0 0 1 266.56 360.44M292.28 374.95L265.91 361.71M324.93 345.8A59.5 59.5 0 1 1 292.28 374.95" stroke="#6e6e6e" stroke-width="0.6" fill="none"/>
<g font-size="4.75" fill="#111" fill-opacity="0.88" stroke="#111" stroke-opacity="0.88" stroke-width="0.15" letter-spacing="0.42"><text x="239.56" y="343.9" text-anchor="end" transform="rotate(29.42 239.56 343.9)">O00030</text><text x="241.47" y="340.54" text-anchor="end" transform="rotate(31.26 241.47 340.54)">O07952</text><text x="243.48" y="337.24" text-anchor="end" transform="rotate(33.09 243.48 337.24)">O09494</text><text x="245.6" y="334" text-anchor="end" transform="rotate(34.93 245.6 334)">O28E77</text><text x="247.81" y="330.84" text-anchor="end" transform="rotate(36.77 247.81 330.84)">O44571</text><text x="250.13" y="327.74" text-anchor="end" transform="rotate(38.6 250.13 327.74)">O47931</text><text x="252.55" y="324.73" text-anchor="end" transform="rotate(40.44 252.55 324.73)">O59853</text><text x="255.07" y="321.79" text-anchor="end" transform="rotate(42.28 255.07 321.79)">O67100</text><text x="257.67" y="318.93" text-anchor="end" transform="rotate(44.11 257.67 318.93)">O73G72</text><text x="260.37" y="316.16" text-anchor="end" transform="rotate(45.95 260.37 316.16)">O74H15</text><text x="263.15" y="313.48" text-anchor="end" transform="rotate(47.79 263.15 313.48)">O75642</text><text x="266.02" y="310.89" text-anchor="end" transform="rotate(49.62 266.02 310.89)">P01581</text><text x="268.97" y="308.39" text-anchor="end" transform="rotate(51.46 268.97 308.39)">P10728</text><text x="272" y="305.98" text-anchor="end" transform="rotate(53.3 272 305.98)">P10H76</text><text x="275.1" y="303.68" text-anchor="end" transform="rotate(55.13 275.1 303.68)">P11889</text><text x="278.28" y="301.47" text-anchor="end" transform="rotate(56.97 278.28 301.47)">P13507</text><text x="281.52" y="299.37" text-anchor="end" transform="rotate(58.81 281.52 299.37)">P16448</text><text x="284.84" y="297.38" text-anchor="end" transform="rotate(60.64 284.84 297.38)">P19772</text><text x="288.21" y="295.49" text-anchor="end" transform="rotate(62.48 288.21 295.49)">P19920</text><text x="291.64" y="293.71" text-anchor="end" transform="rotate(64.32 291.64 293.71)">P22026</text><text x="295.13" y="292.04" text-anchor="end" transform="rotate(66.15 295.13 292.04)">P23562</text><text x="298.67" y="290.48" text-anchor="end" transform="rotate(67.99 298.67 290.48)">P34438</text><text x="302.25" y="289.04" text-anchor="end" transform="rotate(69.83 302.25 289.04)">P48Y10</text><text x="305.89" y="287.71" text-anchor="end" transform="rotate(71.66 305.89 287.71)">P54912</text><text x="309.56" y="286.5" text-anchor="end" transform="rotate(73.5 309.56 286.5)">P54D37</text><text x="313.27" y="285.41" text-anchor="end" transform="rotate(75.34 313.27 285.41)">P62141</text><text x="317.01" y="284.44" text-anchor="end" transform="rotate(77.17 317.01 284.44)">P73434</text><text x="320.78" y="283.59" text-anchor="end" transform="rotate(79.01 320.78 283.59)">P79817</text><text x="324.58" y="282.86" text-anchor="end" transform="rotate(80.85 324.58 282.86)">P84820</text><text x="328.4" y="282.25" text-anchor="end" transform="rotate(82.68 328.4 282.25)">Q17947</text><text x="332.23" y="281.76" text-anchor="end" transform="rotate(84.52 332.23 281.76)">Q45020</text><text x="336.08" y="281.4" text-anchor="end" transform="rotate(86.36 336.08 281.4)">Q56045</text><text x="339.94" y="281.16" text-anchor="end" transform="rotate(88.19 339.94 281.16)">Q59399</text><text x="347.22" y="280.75" text-anchor="start" transform="rotate(-89.97 347.22 280.75)">Q59C95</text><text x="351.1" y="280.87" text-anchor="start" transform="rotate(-88.13 351.1 280.87)">Q65Q78</text><text x="354.97" y="281.11" text-anchor="start" transform="rotate(-86.3 354.97 281.11)">Q85847</text><text x="358.83" y="281.48" text-anchor="start" transform="rotate(-84.46 358.83 281.48)">Q9BDV2</text><text x="362.67" y="281.97" text-anchor="start" transform="rotate(-82.62 362.67 281.97)">Q9BLN5</text><text x="366.5" y="282.58" text-anchor="start" transform="rotate(-80.79 366.5 282.58)">Q9BTT1</text><text x="370.3" y="283.32" text-anchor="start" transform="rotate(-78.95 370.3 283.32)">Q9N143</text><text x="374.08" y="284.18" text-anchor="start" transform="rotate(-77.11 374.08 284.18)">Q9N8F6</text><text x="377.83" y="285.16" text-anchor="start" transform="rotate(-75.28 377.83 285.16)">Q9NNQ7</text><text x="381.55" y="286.25" text-anchor="start" transform="rotate(-73.44 381.55 286.25)">Q9UN17</text><text x="385.23" y="287.47" text-anchor="start" transform="rotate(-71.6 385.23 287.47)">Q9UNR3</text><text x="388.87" y="288.8" text-anchor="start" transform="rotate(-69.77 388.87 288.8)">Q9UR67</text><text x="392.46" y="290.25" text-anchor="start" transform="rotate(-67.93 392.46 290.25)">O15119</text><text x="396.01" y="291.82" text-anchor="start" transform="rotate(-66.09 396.01 291.82)">O19811</text><text x="399.5" y="293.49" text-anchor="start" transform="rotate(-64.26 399.5 293.49)">O86N84</text><text x="402.94" y="295.28" text-anchor="start" transform="rotate(-62.42 402.94 295.28)">O91251</text><text x="406.32" y="297.18" text-anchor="start" transform="rotate(-60.58 406.32 297.18)">O99371</text><text x="409.64" y="299.18" text-anchor="start" transform="rotate(-58.74 409.64 299.18)">P19215</text><text x="412.89" y="301.29" text-anchor="start" transform="rotate(-56.91 412.89 301.29)">P22282</text><text x="416.07" y="303.51" text-anchor="start" transform="rotate(-55.07 416.07 303.51)">P26203</text><text x="419.18" y="305.82" text-anchor="start" transform="rotate(-53.23 419.18 305.82)">P31377</text><text x="422.22" y="308.23" text-anchor="start" transform="rotate(-51.4 422.22 308.23)">P47D93</text><text x="425.17" y="310.74" text-anchor="start" transform="rotate(-49.56 425.17 310.74)">P58619</text><text x="428.04" y="313.34" text-anchor="start" transform="rotate(-47.72 428.04 313.34)">P61897</text><text x="430.83" y="316.04" text-anchor="start" transform="rotate(-45.89 430.83 316.04)">P61G14</text><text x="433.53" y="318.82" text-anchor="start" transform="rotate(-44.05 433.53 318.82)">P62656</text><text x="436.14" y="321.68" text-anchor="start" transform="rotate(-42.21 436.14 321.68)">P67S76</text><text x="438.66" y="324.63" text-anchor="start" transform="rotate(-40.38 438.66 324.63)">P95A14</text><text x="441.08" y="327.66" text-anchor="start" transform="rotate(-38.54 441.08 327.66)">P97039</text><text x="443.4" y="330.76" text-anchor="start" transform="rotate(-36.7 443.4 330.76)">Q19159</text><text x="445.62" y="333.94" text-anchor="start" transform="rotate(-34.87 445.62 333.94)">Q40D75</text><text x="447.74" y="337.18" text-anchor="start" transform="rotate(-33.03 447.74 337.18)">Q43209</text><text x="449.76" y="340.49" text-anchor="start" transform="rotate(-31.19 449.76 340.49)">Q43Z83</text><text x="451.66" y="343.87" text-anchor="start" transform="rotate(-29.36 451.66 343.87)">Q45089</text><text x="453.46" y="347.3" text-anchor="start" transform="rotate(-27.52 453.46 347.3)">Q79988</text><text x="455.15" y="350.79" text-anchor="start" transform="rotate(-25.68 455.15 350.79)">Q97432</text><text x="456.72" y="354.33" text-anchor="start" transform="rotate(-23.85 456.72 354.33)">Q9HNE8</text><text x="458.18" y="357.93" text-anchor="start" transform="rotate(-22.01 458.18 357.93)">O58097</text><text x="459.52" y="361.56" text-anchor="start" transform="rotate(-20.17 459.52 361.56)">O69020</text><text x="460.75" y="365.24" text-anchor="start" transform="rotate(-18.34 460.75 365.24)">O72X38</text><text x="461.86" y="368.95" text-anchor="start" transform="rotate(-16.5 461.86 368.95)">O73G39</text><text x="462.85" y="372.7" text-anchor="start" transform="rotate(-14.66 462.85 372.7)">P02Z04</text><text x="463.71" y="376.48" text-anchor="start" transform="rotate(-12.83 463.71 376.48)">P05531</text><text x="464.46" y="380.28" text-anchor="start" transform="rotate(-10.99 464.46 380.28)">P07982</text><text x="465.08" y="384.11" text-anchor="start" transform="rotate(-9.15 465.08 384.11)">P18554</text><text x="465.58" y="387.95" text-anchor="start" transform="rotate(-7.32 465.58 387.95)">P27G61</text><text x="465.96" y="391.81" text-anchor="start" transform="rotate(-5.48 465.96 391.81)">P33995</text><text x="466.21" y="395.67" text-anchor="start" transform="rotate(-3.64 466.21 395.67)">P56860</text><text x="466.34" y="399.55" text-anchor="start" transform="rotate(-1.81 466.34 399.55)">P60052</text><text x="466.35" y="403.42" text-anchor="start" transform="rotate(0.03 466.35 403.42)">P65688</text><text x="466.23" y="407.3" text-anchor="start" transform="rotate(1.87 466.23 407.3)">Q03652</text><text x="465.99" y="411.17" text-anchor="start" transform="rotate(3.7 465.99 411.17)">Q26136</text><text x="465.62" y="415.03" text-anchor="start" transform="rotate(5.54 465.62 415.03)">Q45T28</text><text x="465.13" y="418.87" text-anchor="start" transform="rotate(7.38 465.13 418.87)">Q62657</text><text x="464.52" y="422.7" text-anchor="start" transform="rotate(9.21 464.52 422.7)">Q63240</text><text x="463.78" y="426.5" text-anchor="start" transform="rotate(11.05 463.78 426.5)">Q9UB02</text><text x="462.92" y="430.28" text-anchor="start" transform="rotate(12.89 462.92 430.28)">Q9Y898</text><text x="461.94" y="434.03" text-anchor="start" transform="rotate(14.72 461.94 434.03)">O11018</text><text x="460.85" y="437.75" text-anchor="start" transform="rotate(16.56 460.85 437.75)">O20243</text><text x="459.63" y="441.43" text-anchor="start" transform="rotate(18.4 459.63 441.43)">O29957</text><text x="458.3" y="445.07" text-anchor="start" transform="rotate(20.23 458.3 445.07)">O50376</text><text x="456.85" y="448.66" text-anchor="start" transform="rotate(22.07 456.85 448.66)">O52200</text><text x="455.28" y="452.21" text-anchor="start" transform="rotate(23.91 455.28 452.21)">O94653</text><text x="453.61" y="455.7" text-anchor="start" transform="rotate(25.74 453.61 455.7)">P18740</text><text x="451.82" y="459.14" text-anchor="start" transform="rotate(27.58 451.82 459.14)">P58D58</text><text x="449.92" y="462.52" text-anchor="start" transform="rotate(29.42 449.92 462.52)">P61307</text><text x="447.92" y="465.84" text-anchor="start" transform="rotate(31.26 447.92 465.84)">P67143</text><text x="445.81" y="469.09" text-anchor="start" transform="rotate(33.09 445.81 469.09)">P72620</text><text x="443.59" y="472.27" text-anchor="start" transform="rotate(34.93 443.59 472.27)">P73336</text><text x="441.28" y="475.38" text-anchor="start" transform="rotate(36.77 441.28 475.38)">P87534</text><text x="438.87" y="478.42" text-anchor="start" transform="rotate(38.6 438.87 478.42)">P87749</text><text x="436.36" y="481.37" text-anchor="start" transform="rotate(40.44 436.36 481.37)">P91647</text><text x="433.76" y="484.24" text-anchor="start" transform="rotate(42.28 433.76 484.24)">P92579</text><text x="431.06" y="487.03" text-anchor="start" transform="rotate(44.11 431.06 487.03)">Q9BFU1</text><text x="428.28" y="489.73" text-anchor="start" transform="rotate(45.95 428.28 489.73)">Q9UCP5</text><text x="425.42" y="492.34" text-anchor="start" transform="rotate(47.79 425.42 492.34)">O21161</text><text x="422.47" y="494.86" text-anchor="start" transform="rotate(49.62 422.47 494.86)">O23796</text><text x="419.44" y="497.28" text-anchor="start" transform="rotate(51.46 419.44 497.28)">O32A26</text><text x="416.34" y="499.6" text-anchor="start" transform="rotate(53.3 416.34 499.6)">O59T77</text><text x="413.16" y="501.82" text-anchor="start" transform="rotate(55.13 413.16 501.82)">O69063</text><text x="409.92" y="503.94" text-anchor="start" transform="rotate(56.97 409.92 503.94)">P02206</text><text x="406.61" y="505.96" text-anchor="start" transform="rotate(58.81 406.61 505.96)">P08732</text><text x="403.23" y="507.86" text-anchor="start" transform="rotate(60.64 403.23 507.86)">P10976</text><text x="399.8" y="509.66" text-anchor="start" transform="rotate(62.48 399.8 509.66)">P26446</text><text x="396.31" y="511.35" text-anchor="start" transform="rotate(64.32 396.31 511.35)">P35457</text><text x="392.77" y="512.92" text-anchor="start" transform="rotate(66.15 392.77 512.92)">P53S08</text><text x="389.17" y="514.38" text-anchor="start" transform="rotate(67.99 389.17 514.38)">P55345</text><text x="385.54" y="515.72" text-anchor="start" transform="rotate(69.83 385.54 515.72)">P55747</text><text x="381.86" y="516.95" text-anchor="start" transform="rotate(71.66 381.86 516.95)">P58417</text><text x="378.15" y="518.06" text-anchor="start" transform="rotate(73.5 378.15 518.06)">P69610</text><text x="374.4" y="519.05" text-anchor="start" transform="rotate(75.34 374.4 519.05)">Q11725</text><text x="370.62" y="519.91" text-anchor="start" transform="rotate(77.17 370.62 519.91)">Q24832</text><text x="366.82" y="520.66" text-anchor="start" transform="rotate(79.01 366.82 520.66)">Q35108</text><text x="362.99" y="521.28" text-anchor="start" transform="rotate(80.85 362.99 521.28)">O17W15</text><text x="359.15" y="521.78" text-anchor="start" transform="rotate(82.68 359.15 521.78)">P00140</text><text x="355.29" y="522.16" text-anchor="start" transform="rotate(84.52 355.29 522.16)">P43113</text><text x="351.43" y="522.41" text-anchor="start" transform="rotate(86.36 351.43 522.41)">P44Y18</text><text x="347.55" y="522.54" text-anchor="start" transform="rotate(88.19 347.55 522.54)">P53044</text><text x="347.1" y="522.25" text-anchor="end" transform="rotate(270.03 347.1 522.25)">P56C58</text><text x="343.23" y="522.24" text-anchor="end" transform="rotate(271.87 343.23 522.24)">P58W96</text><text x="339.37" y="522.11" text-anchor="end" transform="rotate(273.7 339.37 522.11)">P90791</text><text x="335.51" y="521.85" text-anchor="end" transform="rotate(275.54 335.51 521.85)">Q40341</text><text x="331.66" y="521.47" text-anchor="end" transform="rotate(277.38 331.66 521.47)">Q71553</text><text x="327.83" y="520.97" text-anchor="end" transform="rotate(279.21 327.83 520.97)">Q87889</text><text x="324.01" y="520.34" text-anchor="end" transform="rotate(281.05 324.01 520.34)">Q9BKD5</text><text x="320.22" y="519.59" text-anchor="end" transform="rotate(282.89 320.22 519.59)">Q9NU04</text><text x="316.45" y="518.72" text-anchor="end" transform="rotate(284.72 316.45 518.72)">O11908</text><text x="312.71" y="517.73" text-anchor="end" transform="rotate(286.56 312.71 517.73)">O18856</text><text x="309.01" y="516.63" text-anchor="end" transform="rotate(288.4 309.01 516.63)">O51K39</text><text x="305.34" y="515.4" text-anchor="end" transform="rotate(290.23 305.34 515.4)">O62212</text><text x="301.72" y="514.05" text-anchor="end" transform="rotate(292.07 301.72 514.05)">P05739</text><text x="298.14" y="512.6" text-anchor="end" transform="rotate(293.91 298.14 512.6)">P11073</text><text x="294.61" y="511.02" text-anchor="end" transform="rotate(295.74 294.61 511.02)">P32529</text><text x="291.13" y="509.34" text-anchor="end" transform="rotate(297.58 291.13 509.34)">P37247</text><text x="287.7" y="507.54" text-anchor="end" transform="rotate(299.42 287.7 507.54)">Q20349</text><text x="284.34" y="505.63" text-anchor="end" transform="rotate(301.26 284.34 505.63)">Q94460</text><text x="281.04" y="503.62" text-anchor="end" transform="rotate(303.09 281.04 503.62)">O34807</text><text x="277.8" y="501.5" text-anchor="end" transform="rotate(304.93 277.8 501.5)">P11E53</text><text x="274.64" y="499.29" text-anchor="end" transform="rotate(306.77 274.64 499.29)">P13751</text><text x="271.54" y="496.97" text-anchor="end" transform="rotate(308.6 271.54 496.97)">P30243</text><text x="268.53" y="494.55" text-anchor="end" transform="rotate(310.44 268.53 494.55)">P64132</text><text x="265.59" y="492.03" text-anchor="end" transform="rotate(312.28 265.59 492.03)">Q82T82</text><text x="262.73" y="489.43" text-anchor="end" transform="rotate(314.11 262.73 489.43)">Q96187</text><text x="259.96" y="486.73" text-anchor="end" transform="rotate(315.95 259.96 486.73)">Q98076</text><text x="257.28" y="483.95" text-anchor="end" transform="rotate(317.79 257.28 483.95)">Q9Y4X4</text><text x="254.69" y="481.08" text-anchor="end" transform="rotate(319.62 254.69 481.08)">Q9YY19</text><text x="252.19" y="478.13" text-anchor="end" transform="rotate(321.46 252.19 478.13)">O63J31</text><text x="249.78" y="475.1" text-anchor="end" transform="rotate(323.3 249.78 475.1)">O90726</text><text x="247.48" y="472" text-anchor="end" transform="rotate(325.13 247.48 472)">P06127</text><text x="245.27" y="468.82" text-anchor="end" transform="rotate(326.97 245.27 468.82)">P10154</text><text x="243.17" y="465.58" text-anchor="end" transform="rotate(328.81 243.17 465.58)">P33284</text><text x="241.18" y="462.26" text-anchor="end" transform="rotate(330.64 241.18 462.26)">P81415</text><text x="239.29" y="458.89" text-anchor="end" transform="rotate(332.48 239.29 458.89)">Q50X42</text><text x="237.51" y="455.46" text-anchor="end" transform="rotate(334.32 237.51 455.46)">Q71C68</text><text x="235.84" y="451.97" text-anchor="end" transform="rotate(336.15 235.84 451.97)">Q9YJW7</text><text x="234.28" y="448.43" text-anchor="end" transform="rotate(337.99 234.28 448.43)">P09779</text><text x="232.84" y="444.85" text-anchor="end" transform="rotate(339.83 232.84 444.85)">P17380</text><text x="231.51" y="441.21" text-anchor="end" transform="rotate(341.66 231.51 441.21)">P50704</text><text x="230.3" y="437.54" text-anchor="end" transform="rotate(343.5 230.3 437.54)">P97974</text><text x="229.21" y="433.83" text-anchor="end" transform="rotate(345.34 229.21 433.83)">Q9BPE7</text><text x="228.24" y="430.09" text-anchor="end" transform="rotate(347.17 228.24 430.09)">Q9U4Z7</text><text x="227.39" y="426.32" text-anchor="end" transform="rotate(349.01 227.39 426.32)">O42539</text><text x="226.66" y="422.52" text-anchor="end" transform="rotate(350.85 226.66 422.52)">O47278</text><text x="226.05" y="418.7" text-anchor="end" transform="rotate(352.68 226.05 418.7)">P08516</text><text x="225.56" y="414.87" text-anchor="end" transform="rotate(354.52 225.56 414.87)">P15847</text><text x="225.2" y="411.02" text-anchor="end" transform="rotate(356.36 225.2 411.02)">Q9H0K4</text><text x="224.96" y="407.16" text-anchor="end" transform="rotate(358.19 224.96 407.16)">Q9H0Y7</text><text x="224.85" y="403.3" text-anchor="end" transform="rotate(0.03 224.85 403.3)">Q9HSP6</text><text x="224.86" y="399.43" text-anchor="end" transform="rotate(1.87 224.86 399.43)">O86766</text><text x="224.99" y="395.57" text-anchor="end" transform="rotate(3.7 224.99 395.57)">P06326</text><text x="225.25" y="391.71" text-anchor="end" transform="rotate(5.54 225.25 391.71)">P32679</text><text x="225.63" y="387.86" text-anchor="end" transform="rotate(7.38 225.63 387.86)">Q24883</text><text x="226.13" y="384.03" text-anchor="end" transform="rotate(9.21 226.13 384.03)">Q94Z15</text><text x="226.76" y="380.21" text-anchor="end" transform="rotate(11.05 226.76 380.21)">Q98K53</text><text x="227.51" y="376.42" text-anchor="end" transform="rotate(12.89 227.51 376.42)">Q99831</text><text x="228.38" y="372.65" text-anchor="end" transform="rotate(14.72 228.38 372.65)">P39431</text><text x="229.37" y="368.91" text-anchor="end" transform="rotate(16.56 229.37 368.91)">Q59373</text><text x="230.47" y="365.21" text-anchor="end" transform="rotate(18.4 230.47 365.21)">Q9H4D8</text><text x="231.7" y="361.54" text-anchor="end" transform="rotate(20.23 231.7 361.54)">Q9NGH6</text><text x="233.05" y="357.92" text-anchor="end" transform="rotate(22.07 233.05 357.92)">Q9Y8A7</text><text x="234.5" y="354.34" text-anchor="end" transform="rotate(23.91 234.5 354.34)">Q9YCF1</text><text x="236.08" y="350.81" text-anchor="end" transform="rotate(25.74 236.08 350.81)">P31342</text><text x="237.76" y="347.33" text-anchor="end" transform="rotate(27.58 237.76 347.33)">P44820</text></g>
<g transform="translate(321.65 336.88) rotate(69.83)"><rect x="-17.57" y="-3.45" width="35.15" height="6.9" fill="#fff" fill-opacity="0.92"/><text x="0" y="2.16" font-size="6.0" fill="#111" stroke="#111" stroke-width="0.42" text-anchor="middle" xml:space="preserve">Neurological</text></g>
<g transform="translate(393.48 352.11) rotate(-45.89)"><rect x="-36.58" y="-3.45" width="73.16" height="6.9" fill="#fff" fill-opacity="0.92"/><text x="0" y="2.16" font-size="6.0" fill="#111" stroke="#111" stroke-width="0.42" text-anchor="middle" xml:space="preserve">Genetic and Chromosomal</text></g>
<g transform="translate(414.23 396.16) rotate(-4.56)"><rect x="-33.92" y="-3.45" width="67.84" height="6.9" fill="#fff" fill-opacity="0.92"/><text x="0" y="2.16" font-size="6.0" fill="#111" stroke="#111" stroke-width="0.42" text-anchor="middle" xml:space="preserve">Metabolic and Endocrine</text></g>
<g transform="translate(405 436.5) rotate(30.34)"><rect x="-50.25" y="-3.45" width="100.51" height="6.9" fill="#fff" fill-opacity="0.92"/><text x="0" y="2.16" font-size="6.0" fill="#111" stroke="#111" stroke-width="0.42" text-anchor="middle" xml:space="preserve">Autoinflammatory and Immunological</text></g>
<g transform="translate(376.35 463.35) rotate(63.4)"><rect x="-48.92" y="-3.45" width="97.84" height="6.9" fill="#fff" fill-opacity="0.92"/><text x="0" y="2.16" font-size="6.0" fill="#111" stroke="#111" stroke-width="0.42" text-anchor="middle" xml:space="preserve">Musculoskeletal and Dermatological</text></g>
<g transform="translate(343.2 470.61) rotate(271.87)"><rect x="-27.24" y="-3.45" width="54.49" height="6.9" fill="#fff" fill-opacity="0.92"/><text x="0" y="2.16" font-size="6.0" fill="#111" stroke="#111" stroke-width="0.42" text-anchor="middle" xml:space="preserve">Cancer and Tumors</text></g>
<g transform="translate(318.5 465.17) rotate(292.99)"><rect x="-18.74" y="-3.45" width="37.48" height="6.9" fill="#fff" fill-opacity="0.92"/><text x="0" y="2.16" font-size="6.0" fill="#111" stroke="#111" stroke-width="0.42" text-anchor="middle" xml:space="preserve">Mitochondrial</text></g>
<g transform="translate(299.86 453.44) rotate(311.36)"><rect x="-51.09" y="-3.45" width="102.18" height="6.9" fill="#fff" fill-opacity="0.92"/><text x="0" y="2.16" font-size="6.0" fill="#111" stroke="#111" stroke-width="0.42" text-anchor="middle" xml:space="preserve">Hematological and Connective Tissue</text></g>
<g transform="translate(286.43 437.39) rotate(328.81)"><rect x="-24.08" y="-3.45" width="48.16" height="6.9" fill="#fff" fill-opacity="0.92"/><text x="0" y="2.16" font-size="6.0" fill="#111" stroke="#111" stroke-width="0.42" text-anchor="middle" xml:space="preserve">Ophthalmological</text></g>
<g transform="translate(279.61 422.3) rotate(342.58)"><rect x="-20.91" y="-3.45" width="41.82" height="6.9" fill="#fff" fill-opacity="0.92"/><text x="0" y="2.16" font-size="6.0" fill="#111" stroke="#111" stroke-width="0.42" text-anchor="middle" xml:space="preserve">Developmental</text></g>
<g transform="translate(276.77 408.24) rotate(354.52)"><rect x="-25.08" y="-3.45" width="50.15" height="6.9" fill="#fff" fill-opacity="0.92"/><text x="0" y="2.16" font-size="6.0" fill="#111" stroke="#111" stroke-width="0.42" text-anchor="middle" xml:space="preserve">Renal and Urinary</text></g>
<g transform="translate(277.02 392.79) rotate(7.38)"><rect x="-20.91" y="-3.45" width="41.81" height="6.9" fill="#fff" fill-opacity="0.92"/><text x="0" y="2.16" font-size="6.0" fill="#111" stroke="#111" stroke-width="0.42" text-anchor="middle" xml:space="preserve">Cardiovascular</text></g>
<g transform="translate(280.33 378.83) rotate(19.32)"><rect x="-40.75" y="-3.45" width="81.5" height="6.9" fill="#fff" fill-opacity="0.92"/><text x="0" y="2.16" font-size="6.0" fill="#111" stroke="#111" stroke-width="0.42" text-anchor="middle" xml:space="preserve">Gastrointestinal and Digestive</text></g>
<g transform="translate(283.79 370.69) rotate(26.66)"><rect x="-27.07" y="-3.45" width="54.15" height="6.9" fill="#fff" fill-opacity="0.92"/><text x="0" y="2.16" font-size="6.0" fill="#111" stroke="#111" stroke-width="0.42" text-anchor="middle" xml:space="preserve">Respiratory System</text></g></svg>
</body></html>
